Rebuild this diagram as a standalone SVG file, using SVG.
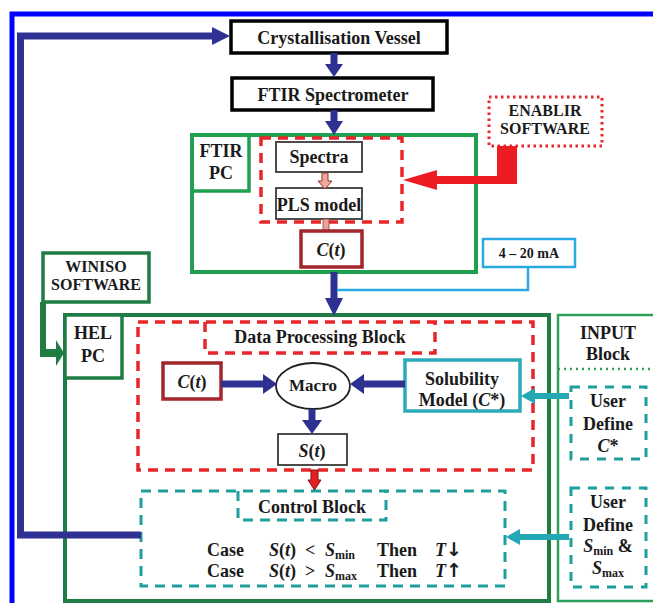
<svg xmlns="http://www.w3.org/2000/svg" width="653" height="603" viewBox="0 0 653 603">
<defs>
<style>
text{font-family:"Liberation Serif","Times New Roman",serif;font-weight:bold;font-size:18px;fill:#1a1a1a}
.c{text-anchor:middle}
.i{font-style:italic}
.s16{font-size:16px}
.arr{font-family:"DejaVu Sans",sans-serif;font-size:19px;font-weight:bold}
.blk{fill:#fff;stroke:#000;stroke-width:3.5}
.gry{fill:#fff;stroke:#3a3a3a;stroke-width:1.8}
.dred{fill:#fff;stroke:#a3262a;stroke-width:3.5}
.rdash{fill:none;stroke:#e8262a;stroke-width:3.5;stroke-dasharray:10 7}
.tdash{fill:none;stroke:#1f9e9e;stroke-width:3;stroke-dasharray:10 7}
.udash{fill:#fff;stroke:#1f9e9e;stroke-width:3;stroke-dasharray:9 8}
.gdark{fill:#fff;stroke:#1f7d43;stroke-width:4}
.glight{fill:none;stroke:#1fa04e;stroke-width:4}
.navy{fill:none;stroke:#2e3192;stroke-width:7}
.navyf{fill:#2e3192}
.cyan{fill:none;stroke:#23a8b4;stroke-width:6}
.cyanf{fill:#23a8b4}
</style>
</defs>
<rect width="653" height="603" fill="#fff"/>
<path d="M12,603 V14 H653" fill="none" stroke="#0000ff" stroke-width="5"/>

<g id="input-block">
<rect x="558" y="315" width="110" height="286" fill="#fff" stroke="#2e9e5b" stroke-width="2.5"/>
<line x1="558" y1="369" x2="653" y2="369" stroke="#2e9e5b" stroke-width="2.5" stroke-dasharray="2 4"/>
<text class="c" x="608" y="339">INPUT</text>
<text class="c" x="608" y="360">Block</text>
</g>

<g id="hel-pc">
<rect class="gdark" x="65" y="315" width="484" height="286"/>
<rect class="gdark" x="65" y="315" width="57" height="63" style="stroke-width:3.5"/>
<text class="c" x="93" y="339">HEL</text>
<text class="c" x="93" y="362">PC</text>
</g>

<g id="winiso">
<rect class="gdark" x="43" y="253" width="106" height="49" style="stroke-width:3.5"/>
<text class="c s16" x="96" y="272">WINISO</text>
<text class="c s16" x="96" y="290">SOFTWARE</text>
</g>

<g id="crystallisation-vessel">
<rect class="blk" x="231" y="21" width="216" height="32"/>
<text class="c" x="339" y="44">Crystallisation Vessel</text>
</g>

<g id="ftir-spectrometer">
<rect class="blk" x="232" y="78" width="201" height="32"/>
<text class="c" x="333" y="101">FTIR Spectrometer</text>
</g>

<g id="ftir-pc">
<rect class="glight" x="192" y="135" width="284" height="137"/>
<rect class="glight" x="192" y="135" width="57" height="56" style="stroke-width:3.5"/>
<text class="c" x="221" y="157">FTIR</text>
<text class="c" x="221" y="179">PC</text>
<rect class="rdash" x="261" y="138" width="141" height="84"/>
</g>

<g id="spectra">
<rect class="gry" x="276" y="142" width="86" height="30"/>
<text class="c" x="319" y="163">Spectra</text>
</g>

<g id="pls-model">
<rect class="gry" x="276" y="188" width="86" height="31"/>
<text class="c" x="319" y="211">PLS model</text>
</g>

<g id="ct-ftir">
<rect x="323" y="219" width="6" height="12" fill="#e8a398" stroke="#8b4a3a" stroke-width="0.8"/>
<rect class="dred" x="301" y="231" width="61" height="36"/>
<text class="c" x="331" y="256"><tspan class="i">C</tspan>(<tspan class="i">t</tspan>)</text>
</g>

<g id="enablir">
<rect x="489" y="97" width="113" height="49" fill="#fff" stroke="#e8262a" stroke-width="3" stroke-dasharray="2.5 3.5"/>
<text class="c s16" x="545" y="116">ENABLIR</text>
<text class="c s16" x="545" y="134">SOFTWARE</text>
</g>

<g id="ma-signal">
<rect x="483" y="239" width="92" height="28" fill="#fff" stroke="#29abe2" stroke-width="2.5"/>
<text class="c" x="529" y="258" style="font-size:14px">4 – 20 mA</text>
</g>

<g id="data-processing-block">
<rect class="rdash" x="138" y="322" width="395" height="148"/>
<path class="rdash" d="M205,322 V353 H435 V322"/>
<text class="c" x="320" y="343">Data Processing Block</text>
</g>

<g id="ct-hel">
<rect class="dred" x="163" y="363" width="58" height="36"/>
<text class="c" x="192" y="388"><tspan class="i">C</tspan>(<tspan class="i">t</tspan>)</text>
</g>

<g id="macro">
<ellipse cx="313" cy="386" rx="37" ry="23" fill="#fff" stroke="#222" stroke-width="1.8"/>
<text class="c" x="313" y="391" style="font-size:17px">Macro</text>
</g>

<g id="solubility-model">
<rect x="405" y="360" width="115" height="51" fill="#fff" stroke="#2aaabb" stroke-width="3.5"/>
<text class="c" x="462" y="385">Solubility</text>
<text class="c" x="462" y="406">Model (<tspan class="i">C</tspan>*)</text>
</g>

<g id="st">
<rect class="gry" x="278" y="434" width="69" height="31"/>
<text class="c" x="312" y="457"><tspan class="i">S</tspan>(<tspan class="i">t</tspan>)</text>
</g>

<g id="control-block">
<rect class="tdash" x="141" y="491" width="364" height="95"/>
<path class="tdash" d="M238,491 V520 H386 V491"/>
<text class="c" x="312" y="513">Control Block</text>
<text x="207" y="556">Case</text>
<text x="269" y="556"><tspan class="i">S</tspan>(<tspan class="i">t</tspan>)</text>
<text x="305" y="556">&lt;</text>
<text x="325" y="556"><tspan class="i">S</tspan><tspan font-size="12" dy="3">min</tspan></text>
<text x="377" y="556">Then</text>
<text x="435" y="556"><tspan class="i">T</tspan><tspan class="arr">↓</tspan></text>
<text x="207" y="577">Case</text>
<text x="269" y="577"><tspan class="i">S</tspan>(<tspan class="i">t</tspan>)</text>
<text x="305" y="577">&gt;</text>
<text x="325" y="577"><tspan class="i">S</tspan><tspan font-size="12" dy="3">max</tspan></text>
<text x="377" y="577">Then</text>
<text x="435" y="577"><tspan class="i">T</tspan><tspan class="arr">↑</tspan></text>
</g>

<g id="user-define-c">
<rect class="udash" x="571" y="387" width="75" height="72"/>
<text class="c" x="608" y="407">User</text>
<text class="c" x="608" y="430">Define</text>
<text class="c" x="608" y="452"><tspan class="i">C</tspan>*</text>
</g>

<g id="user-define-s">
<rect class="udash" x="571" y="488" width="75" height="99"/>
<text class="c" x="608" y="508">User</text>
<text class="c" x="608" y="531">Define</text>
<text class="c" x="608" y="552"><tspan class="i">S</tspan><tspan font-size="12" dy="3">min</tspan><tspan dy="-3"> &amp;</tspan></text>
<text class="c" x="608" y="574"><tspan class="i">S</tspan><tspan font-size="12" dy="3">max</tspan></text>
</g>

<g id="connectors">
<path class="navy" d="M141,535 H20.5 V36 H214"/>
<polygon class="navyf" points="230,36 212,27 212,45"/>
<line class="navy" x1="334" y1="53" x2="334" y2="66"/>
<polygon class="navyf" points="334,77 325,64 343,64"/>
<line class="navy" x1="334" y1="110" x2="334" y2="123"/>
<polygon class="navyf" points="334,135 325,121 343,121"/>
<line class="navy" x1="334" y1="272" x2="334" y2="300"/>
<polygon class="navyf" points="334,316 325,298 343,298"/>
<polyline points="528,267 528,290 337,290" fill="none" stroke="#29abe2" stroke-width="2.5"/>
<line class="navy" x1="221" y1="384" x2="265" y2="384"/>
<polygon class="navyf" points="277,384 263,374 263,394"/>
<line class="navy" x1="405" y1="384" x2="362" y2="384"/>
<polygon class="navyf" points="350,384 364,374 364,394"/>
<line class="navy" x1="312" y1="409" x2="312" y2="422"/>
<polygon class="navyf" points="312,434 302,420 322,420"/>
<polygon points="322,173 322,181 318,181 325,189 332,181 328,181 328,173" fill="#f2a59a" stroke="#8b3a2a" stroke-width="1"/>
<polygon points="497,146 517,146 517,184 437,184 437,190 403,180 437,170 437,176 497,176" fill="#ed1c24"/>
<polygon points="311,470 318,470 318,480 321,480 314.5,490 308,480 311,480" fill="#e31e24" stroke="#8a1010" stroke-width="1"/>
<polygon points="40,302 46,302 46,349 56,349 56,340 64,353 56,366 56,357 40,357" fill="#1f7d43"/>
<line class="cyan" x1="569" y1="396" x2="533" y2="396"/>
<polygon class="cyanf" points="521,396 535,388 535,404"/>
<line class="cyan" x1="569" y1="537" x2="518" y2="537"/>
<polygon class="cyanf" points="506,537 520,529 520,545"/>
</g>
</svg>
